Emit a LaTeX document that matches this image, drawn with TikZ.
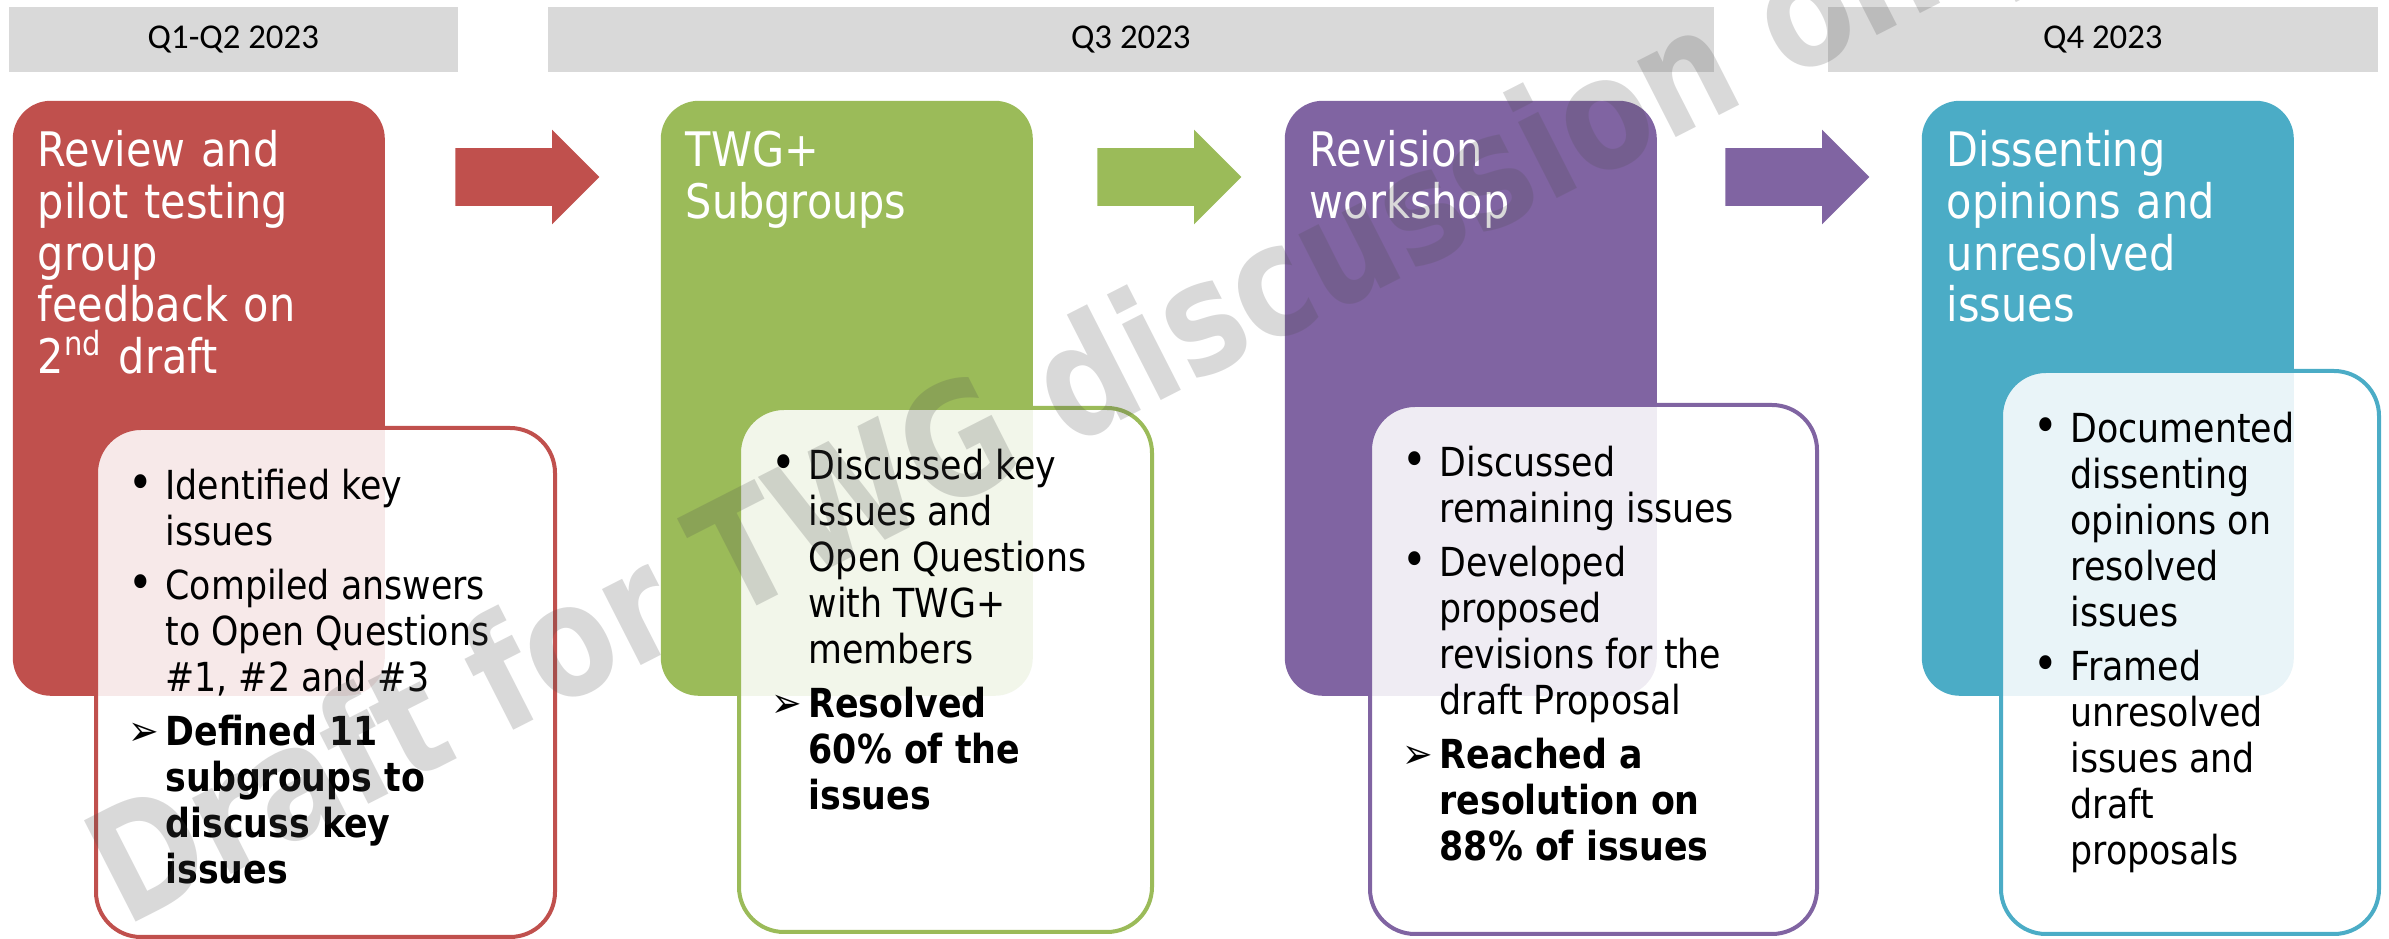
\documentclass[tikz,border=0pt]{standalone}
\usepackage{fontspec}
\setmainfont{DejaVu Sans}[FakeStretch=0.87]
\newfontfamily\barfont{Carlito}
\newfontfamily\markfont{DejaVu Sans}[FakeStretch=0.83]
\usepackage{tikz}
\usetikzlibrary{
  shapes.arrows
}
\definecolor{review}{HTML}{C0504D}
\definecolor{subgroup}{HTML}{9BBB59}
\definecolor{workshop}{HTML}{8064A2}
\definecolor{dissent}{HTML}{4BACC6}
\definecolor{quarter}{HTML}{D9D9D9}

\newcommand\bulletmark{{\fontsize{12}{11.5}\selectfont\textbullet}}
\newcommand\arrowmark{{\fontsize{10.5}{11.5}\selectfont ➢}}
\newcommand\itm[2][\bulletmark]{\par\lineskip=2pt\relax\noindent
  \makebox[7.2pt][l]{\hspace{-2pt}#1}\parbox[t]{100pt}{\selectfont\strut#2\strut}}
\newcommand\arritm[1]{\itm[\arrowmark]{\bfseries#1}}
\newcommand\pointlist[1]{\vtop{\hsize=110pt\parskip=0pt\parindent=0pt#1}}

\tikzset{
  quarter bar/.style={fill=quarter,inner sep=0pt,minimum height=16.25pt,anchor=north west,
    font=\barfont\fontsize{8.7}{10}\selectfont},
  phase/.style={fill=#1,rounded corners=9.5pt,minimum width=93pt,minimum height=148.75pt,
    anchor=north west,inner sep=0pt},
  note/.style={draw=#1,line width=1pt,fill=white,fill opacity=0.88,rounded corners=11.25pt,
    anchor=north west,inner sep=0pt},
  title/.style={text=white,anchor=base west,inner sep=0pt,text width=90pt,
    font=\fontsize{11.9}{12.9}\selectfont},
  points/.style={anchor=base west,inner sep=0pt,
    font=\fontsize{10}{11.5}\selectfont},
  flow arrow/.style={single arrow,fill=#1,minimum height=36pt,inner xsep=0pt,inner ysep=7pt,
    single arrow head extend=4.625pt,anchor=west},
  draftmark/.style={rotate=27,text=black!70,text opacity=0.21,inner sep=0pt,
    font=\markfont\bfseries\fontsize{39}{42}\selectfont},
}

\begin{document}
\begin{tikzpicture}[x=0.25pt,y=-0.25pt]
\clip (0,0) rectangle (2389,939);

% quarters
\node[quarter bar,minimum width=112.25pt] (q12) at (8,6) {Q1-Q2 2023};
\node[quarter bar,minimum width=291.5pt] (q3) at (547,6) {Q3 2023};
\node[quarter bar,minimum width=137.5pt] (q4) at (1827,6) {Q4 2023};

% phases
\node[phase=review] (redbox) at (12,100) {};
\node[phase=subgroup] (greenbox) at (660,100) {};
\node[phase=workshop] (purplebox) at (1284,100) {};
\node[phase=dissent] (tealbox) at (1921,100) {};

\node[title] (reviewtitle) at ([shift={(25,67)}]redbox.north west)
  {Review and\\pilot testing\\group\\feedback on\\2\textsuperscript{nd} draft};
\node[title] (subgrouptitle) at ([shift={(25,67)}]greenbox.north west)
  {TWG+\\Subgroups};
\node[title] (workshoptitle) at ([shift={(25,67)}]purplebox.north west)
  {Revision\\workshop};
\node[title] (dissenttitle) at ([shift={(25,67)}]tealbox.north west)
  {Dissenting\\opinions and\\unresolved\\issues};

% arrows between phases
\node[flow arrow=review] (toSubgroups) at ([shift={(69,77)}]redbox.north east) {};
\node[flow arrow=subgroup] (toWorkshop) at ([shift={(63,77)}]greenbox.north east) {};
\node[flow arrow=workshop] (toDissent) at ([shift={(67,77)}]purplebox.north east) {};

% outcome boxes
\node[note=review,minimum width=114.75pt,minimum height=127.25pt] (rednote) at (94,426) {};
\node[note=subgroup,minimum width=103.25pt,minimum height=131pt] (greennote) at (737,406) {};
\node[note=workshop,minimum width=111.75pt,minimum height=132.25pt] (purplenote) at (1368,403) {};
\node[note=dissent,minimum width=94.5pt,minimum height=140.75pt] (tealnote) at (1999,369) {};

\node[points] (redpoints) at ([shift={(42,74)}]rednote.north west) {\pointlist{%
  \itm{Identified key\\issues}
  \itm{Compiled answers\\to Open Questions\\\#1, \#2 and \#3}
  \arritm{Defined 11\\subgroups to\\discuss key\\issues}}};
\node[points] (greenpoints) at ([shift={(42,74)}]greennote.north west) {\pointlist{%
  \itm{Discussed key\\issues and\\Open Questions\\with TWG+\\members}
  \arritm{Resolved\\60\% of the\\issues}}};
\node[points] (purplepoints) at ([shift={(42,74)}]purplenote.north west) {\pointlist{%
  \itm{Discussed\\remaining issues}
  \itm{Developed\\proposed\\revisions for the\\draft Proposal}
  \arritm{Reached a\\resolution on\\88\% of issues}}};
\node[points] (tealpoints) at ([shift={(42,74)}]tealnote.north west) {\pointlist{%
  \itm{Documented\\dissenting\\opinions on\\resolved\\issues}
  \itm{Framed\\unresolved\\issues and\\draft\\proposals}}};

% watermark
\node[draftmark] (watermark) at (1076,396) {Draft for TWG discussion only};
\end{tikzpicture}
\end{document}
